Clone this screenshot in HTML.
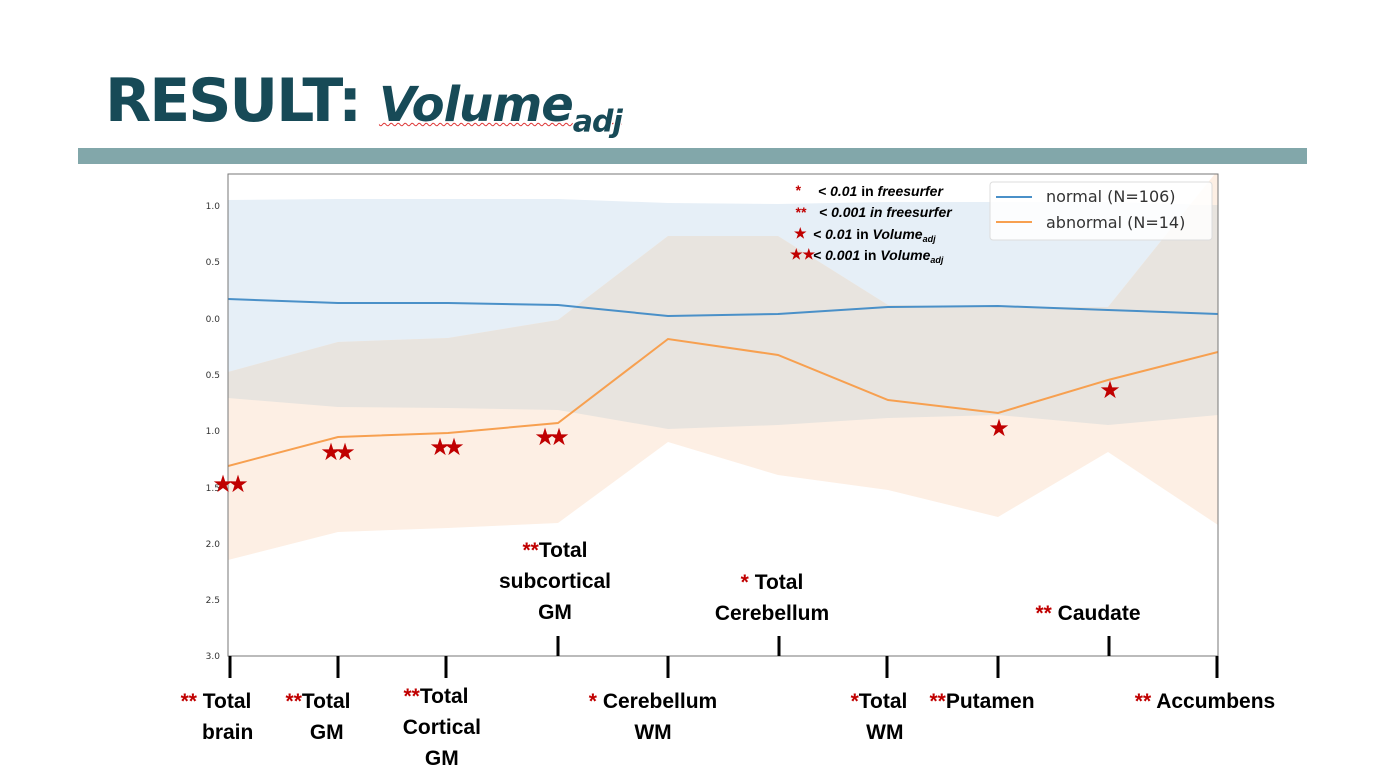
<!DOCTYPE html><html><head><style>
body{margin:0;width:1383px;height:776px;background:#fff;position:relative;overflow:hidden;font-family:"Liberation Sans",sans-serif}
.t{position:absolute;font-family:"Liberation Sans",sans-serif;font-weight:bold;font-size:21px;color:#000;text-align:center;line-height:31px;white-space:nowrap;transform:translateX(-50%)}
.r{color:#c00000}
</style></head><body>
<div style="position:absolute;left:105px;top:66px;font-family:'DejaVu Sans','Liberation Sans',sans-serif;font-weight:bold;color:#174a57;font-size:60px;white-space:nowrap;letter-spacing:-2px">RESULT: <span style="font-style:italic;font-size:48px;letter-spacing:-1px;text-decoration:underline wavy #d33;text-decoration-thickness:1px">Volume<sub style="font-size:30px">adj</sub></span></div>
<div style="position:absolute;left:78px;top:148px;width:1229px;height:16px;background:#82a7aa"></div>
<svg width="1383" height="776" style="position:absolute;left:0;top:0">
<defs><clipPath id="c"><rect x="228" y="174" width="990" height="482"/></clipPath></defs>
<g clip-path="url(#c)">
<polygon fill="#e6eff7" points="228,200 338,199 448,199 558,199 668,203 778,204 888,202 998,202 1108,202 1218,205 1218,415 1108,425 998,415 888,418 778,425 668,429 558,410 448,408 338,407 228,398"/>
<polygon fill="#fdefe4" points="228,372 338,342 448,338 558,320 668,236 778,236 888,305 998,307 1108,307 1218,170 1218,525 1108,452 998,517 888,490 778,475 668,442 558,523 448,528 338,532 228,560"/>
<polygon fill="#e8e4df" points="228,372 338,342 448,338 558,320 668,236 778,236 888,305 998,307 1108,307 1190,205 1218,205 1218,415 1108,425 998,415 888,418 778,425 668,429 558,410 448,408 338,407 228,398"/>
<polyline fill="none" stroke="#4a90c8" stroke-width="2" points="228,299 338,303 448,303 558,305 668,316 778,314 888,307 998,306 1108,310 1218,314"/>
<polyline fill="none" stroke="#f7a050" stroke-width="2" points="228,466 338,437 448,433 558,423 668,339 778,355 888,400 998,413 1108,380 1218,352"/>
</g>
<rect x="228" y="174" width="990" height="482" fill="none" stroke="#777" stroke-width="1"/>
<g font-size="9" fill="#333" text-anchor="end" font-family="DejaVu Sans">
<text x="220" y="209">1.0</text><text x="220" y="265">0.5</text><text x="220" y="322">0.0</text><text x="220" y="378">0.5</text><text x="220" y="434">1.0</text><text x="220" y="491">1.5</text><text x="220" y="547">2.0</text><text x="220" y="603">2.5</text><text x="220" y="659">3.0</text>
</g>
<g stroke="#000" stroke-width="3">
<line x1="230" y1="656" x2="230" y2="678"/><line x1="338" y1="656" x2="338" y2="678"/><line x1="446" y1="656" x2="446" y2="678"/><line x1="668" y1="656" x2="668" y2="678"/><line x1="887" y1="656" x2="887" y2="678"/><line x1="998" y1="656" x2="998" y2="678"/><line x1="1217" y1="656" x2="1217" y2="678"/>
<line x1="558" y1="636" x2="558" y2="656"/><line x1="779" y1="636" x2="779" y2="656"/><line x1="1109" y1="636" x2="1109" y2="656"/>
</g>
<g fill="#c00000" font-size="24" text-anchor="middle" font-family="DejaVu Sans">
<text x="223" y="492">★</text><text x="238" y="492">★</text>
<text x="331" y="460">★</text><text x="345" y="460">★</text>
<text x="440" y="455">★</text><text x="454" y="455">★</text>
<text x="545" y="445">★</text><text x="559" y="445">★</text>
<text x="999" y="436">★</text><text x="1110" y="398">★</text>
</g>
<rect x="990" y="182" width="222" height="58" rx="3" fill="#fff" fill-opacity="0.85" stroke="#ddd"/>
<line x1="996" y1="197" x2="1032" y2="197" stroke="#4a90c8" stroke-width="2"/>
<line x1="996" y1="222" x2="1032" y2="222" stroke="#f7a050" stroke-width="2"/>
<g font-size="16" fill="#333" font-family="DejaVu Sans"><text x="1046" y="202">normal (N=106)</text><text x="1046" y="228">abnormal (N=14)</text></g>
<g font-size="14" font-weight="bold" font-style="italic" font-family="Liberation Sans">
<text x="795" y="195" fill="#c00000">*</text><text x="818" y="196">&lt; 0.01 <tspan font-style="normal">in</tspan> freesurfer</text>
<text x="795" y="217" fill="#c00000">**</text><text x="819" y="217">&lt; 0.001 in freesurfer</text>
<text x="794" y="238" fill="#c00000" font-style="normal">★</text><text x="813" y="239">&lt; 0.01 <tspan font-style="normal">in</tspan> Volume<tspan font-size="9" dy="3">adj</tspan></text>
<text x="790" y="259" fill="#c00000" font-style="normal">★★</text><text x="813" y="260">&lt; 0.001 <tspan font-style="normal">in</tspan> Volume<tspan font-size="9" dy="3">adj</tspan></text>
</g>
</svg>
<div class="t" style="left:555px;top:535px"><span class="r">**</span>Total<br>subcortical<br>GM</div>
<div class="t" style="left:772px;top:567px"><span class="r">*</span> Total<br>Cerebellum</div>
<div class="t" style="left:1088px;top:598px"><span class="r">**</span> Caudate</div>
<div class="t" style="left:216px;top:686px"><span class="r">**</span> Total<br>&nbsp;&nbsp;&nbsp;&nbsp;brain</div>
<div class="t" style="left:318px;top:686px"><span class="r">**</span>Total<br>&nbsp;&nbsp;&nbsp;GM</div>
<div class="t" style="left:436px;top:681px"><span class="r">**</span>Total<br>&nbsp;&nbsp;Cortical<br>&nbsp;&nbsp;GM</div>
<div class="t" style="left:653px;top:686px"><span class="r">*</span> Cerebellum<br>WM</div>
<div class="t" style="left:879px;top:686px"><span class="r">*</span>Total<br>&nbsp;&nbsp;WM</div>
<div class="t" style="left:982px;top:686px"><span class="r">**</span>Putamen</div>
<div class="t" style="left:1205px;top:686px"><span class="r">**</span> Accumbens</div>
</body></html>
